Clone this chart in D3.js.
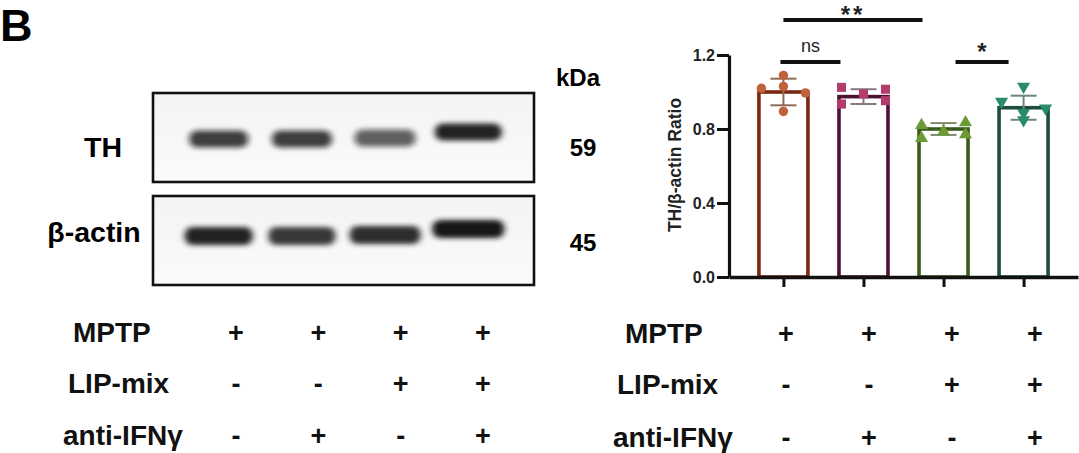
<!DOCTYPE html>
<html><head><meta charset="utf-8">
<script src="https://cdn.jsdelivr.net/npm/d3@7"></script>
<style>
html,body{margin:0;padding:0;background:#fff;}
svg{display:block;font-family:"Liberation Sans",Arial,Helvetica,sans-serif;}
</style></head>
<body><svg id="fig" width="1079" height="453"></svg>
<script>
// ---------- data ----------
const groups = ["MPTP", "MPTP+anti-IFNγ", "MPTP+LIP-mix", "MPTP+LIP-mix+anti-IFNγ"];
const means = [1.00, 0.975, 0.80, 0.915];
const sds = [0.072, 0.04, 0.032, 0.065];
const points = [
  [1.09, 1.03, 1.02, 0.995, 0.895],
  [1.025, 0.935, 0.99, 1.015, 0.953],
  [0.82, 0.75, 0.785, 0.835, 0.77],
  [1.03, 0.948, 0.912, 0.888, 0.849]
];
const pointSlots = [[0,0,-1,1,0],[-1,-1,0,1,1],[-1,-1,0,1,1],[0,-1,1,0,0]];
const yTicks = [0.0, 0.4, 0.8, 1.2];
const yLabel = "TH/β-actin Ratio";
const comparisons = [
  {a:0, b:2, label:"**"},
  {a:0, b:1, label:"ns"},
  {a:2, b:3, label:"*"}
];
const rowLabels = ["MPTP", "LIP-mix", "anti-IFNγ"];
const mptp = ["+","+","+","+"];
const lipMix = ["-","-","+","+"];
const antiIFNg = ["-","+","-","+"];
const blotRows = ["TH", "β-actin"];
const blotKDa = ["59", "45"];
const thIntensity = [0.80, 0.80, 0.66, 0.95];
const actinIntensity = [0.95, 0.86, 0.90, 1.0];
const thWidth = [65, 66, 67, 73];
const actinWidth = [74, 73, 77, 78];

// ---------- styles ----------
const barStroke = ["#7a2712", "#4d1233", "#3b5a1e", "#1d4d3c"];
const pointFill = ["#c0623b", "#b23c6c", "#6c9a34", "#2a8a6e"];
const errColor = ["#8f6858", "#857a80", "#7d8c6a", "#6a8780"];
const symbols = [d3.symbolCircle, d3.symbolSquare, d3.symbolTriangle, d3.symbolTriangle];
const symSize = [70, 82, 74, 74];
const symRot = [0, 0, 0, 180];

const svg = d3.select("#fig");
const FONT = "\"Liberation Sans\",Arial,sans-serif";

// ---------- panel letter ----------
svg.append("text").attr("x", 0).attr("y", 41).attr("font-size", 45).attr("font-weight", "bold").text("B");

// ---------- western blot ----------
const defs = svg.append("defs");
const f = defs.append("filter").attr("id", "blur").attr("x", "-30%").attr("y", "-80%").attr("width", "160%").attr("height", "260%");
f.append("feGaussianBlur").attr("stdDeviation", "3.4 2.8");
const bgGrad = defs.append("linearGradient").attr("id", "bg").attr("x1", 0).attr("x2", 0).attr("y1", 0).attr("y2", 1);
bgGrad.append("stop").attr("offset", "0%").attr("stop-color", "#f3f3f3");
bgGrad.append("stop").attr("offset", "100%").attr("stop-color", "#fbfbfb");

const lane = d3.scalePoint().domain(d3.range(4)).range([153, 534]).padding(0.79);
const blotBoxes = [{y0: 93, y1: 182, c: 139, ints: thIntensity, w: thWidth, h: 17},
                   {y0: 196, y1: 285, c: 236, ints: actinIntensity, w: actinWidth, h: 18}];
const laneTilt = [0, 0, -1, -7];
blotBoxes.forEach((b, bi) => {
  const g = svg.append("g");
  g.append("rect").attr("x", 153).attr("y", b.y0).attr("width", 381).attr("height", b.y1 - b.y0)
    .attr("fill", "url(#bg)").attr("stroke", "#111").attr("stroke-width", 2.6);
  g.selectAll("rect.band").data(b.ints).join("rect").attr("class", "band")
    .attr("x", (d, i) => lane(i) - b.w[i] / 2 + 3)
    .attr("y", (d, i) => b.c + laneTilt[i] - b.h / 2)
    .attr("width", (d, i) => b.w[i] - 6).attr("height", b.h)
    .attr("rx", 8).attr("fill", "#141414").attr("fill-opacity", d => d)
    .attr("filter", "url(#blur)");
  g.append("text").attr("x", bi === 0 ? 103 : 94).attr("y", bi === 0 ? 157 : 242)
    .attr("text-anchor", "middle").attr("font-size", 28.5).attr("font-weight", "bold").text(blotRows[bi]);
  g.append("text").attr("x", 583).attr("y", bi === 0 ? 156 : 251)
    .attr("text-anchor", "middle").attr("font-size", 24).attr("font-weight", "bold").text(blotKDa[bi]);
});
svg.append("text").attr("x", 578).attr("y", 86).attr("text-anchor", "middle")
  .attr("font-size", 24).attr("font-weight", "bold").text("kDa");

// ---------- bar chart ----------
const y = d3.scaleLinear().domain([0, 1.2]).range([277, 55]);
const x = d3.scalePoint().domain(groups).range([729, 1078]).padding(0.68);
const bw = 49;

const yAxis = svg.append("g").attr("transform", "translate(729,0)")
  .call(d3.axisLeft(y).tickValues(yTicks).tickFormat(d3.format(".1f")).tickSize(12).tickSizeOuter(0).tickPadding(2));
yAxis.select(".domain").attr("stroke", "#111").attr("stroke-width", 3.2);
yAxis.selectAll(".tick line").attr("stroke", "#111").attr("stroke-width", 3);
yAxis.selectAll(".tick text").attr("font-size", 16).attr("font-weight", "bold").attr("font-family", FONT).attr("fill", "#222").attr("dy", "0.34em");

svg.append("text").attr("transform", "translate(681,165) rotate(-90)").attr("text-anchor", "middle")
  .attr("font-size", 17.5).attr("font-weight", "bold").attr("fill", "#222").text(yLabel);

// bars
svg.selectAll("rect.bar").data(groups).join("rect").attr("class", "bar")
  .attr("x", d => x(d) - bw / 2).attr("width", bw)
  .attr("y", (d, i) => y(means[i])).attr("height", (d, i) => y(0) - y(means[i]))
  .attr("fill", "#fff").attr("stroke", (d, i) => barStroke[i]).attr("stroke-width", 3.6);

// x axis
const xAxis = svg.append("g").attr("transform", "translate(0,277)")
  .call(d3.axisBottom(x).tickSize(10).tickSizeOuter(0).tickFormat(""));
xAxis.select(".domain").attr("stroke", "#111").attr("stroke-width", 3.6);
xAxis.selectAll(".tick line").attr("stroke", "#111").attr("stroke-width", 3);

// error bars
const eb = svg.append("g");
groups.forEach((gname, i) => {
  const cx = x(gname), c = errColor[i];
  eb.append("line").attr("x1", cx).attr("x2", cx).attr("y1", y(means[i] + sds[i])).attr("y2", y(means[i] - sds[i]))
    .attr("stroke", c).attr("stroke-width", 2);
  [means[i] + sds[i], means[i] - sds[i]].forEach(v => {
    eb.append("line").attr("x1", cx - 13).attr("x2", cx + 13).attr("y1", y(v)).attr("y2", y(v))
      .attr("stroke", c).attr("stroke-width", 2);
  });
});

// points
groups.forEach((gname, i) => {
  svg.append("g").selectAll("path").data(points[i]).join("path")
    .attr("d", d3.symbol().type(symbols[i]).size(symSize[i]))
    .attr("transform", (v, k) => `translate(${x(gname) + pointSlots[i][k] * 22},${y(v)}) rotate(${symRot[i]})`)
    .attr("fill", pointFill[i]);
});

// significance
const sigLayout = [{dx1: 0, dx2: -21, ly: 20, ty: 23, fs: 24, bold: true, sp: 3},
                   {dx1: -3, dx2: -23, ly: 62, ty: 52, fs: 18, bold: false, sp: 0},
                   {dx1: 12, dx2: -15, ly: 62, ty: 60, fs: 24, bold: true, sp: 0}];
comparisons.forEach((c, i) => {
  const L = sigLayout[i];
  const x1 = x(groups[c.a]) + L.dx1, x2 = x(groups[c.b]) + L.dx2;
  svg.append("line").attr("x1", x1).attr("x2", x2).attr("y1", L.ly).attr("y2", L.ly)
    .attr("stroke", "#111").attr("stroke-width", 4);
  svg.append("text").attr("x", (x1 + x2) / 2).attr("y", L.ty).attr("text-anchor", "middle")
    .attr("font-size", L.fs).attr("font-weight", L.bold ? "bold" : "normal").attr("letter-spacing", L.sp)
    .attr("fill", "#222").text(c.label);
});

// ---------- treatment tables ----------
const rows = [mptp, lipMix, antiIFNg];
const tables = [
  {labelX: [73, 68, 63], base: [342, 393, 445], cols: d3.scalePoint().domain(d3.range(4)).range([236, 483])},
  {labelX: [625, 617, 613], base: [343, 394, 447], cols: d3.scalePoint().domain(d3.range(4)).range([786, 1035])}
];
tables.forEach(t => {
  rows.forEach((r, ri) => {
    svg.append("text").attr("x", t.labelX[ri]).attr("y", t.base[ri]).attr("font-size", 28)
      .attr("font-weight", "bold").attr("fill", "#111").text(rowLabels[ri]);
    svg.append("g").selectAll("text").data(r).join("text")
      .attr("x", (d, k) => t.cols(k)).attr("y", t.base[ri]).attr("text-anchor", "middle")
      .attr("font-size", 27).attr("font-weight", "bold").attr("fill", "#111").text(d => d);
  });
});
</script></body></html>
